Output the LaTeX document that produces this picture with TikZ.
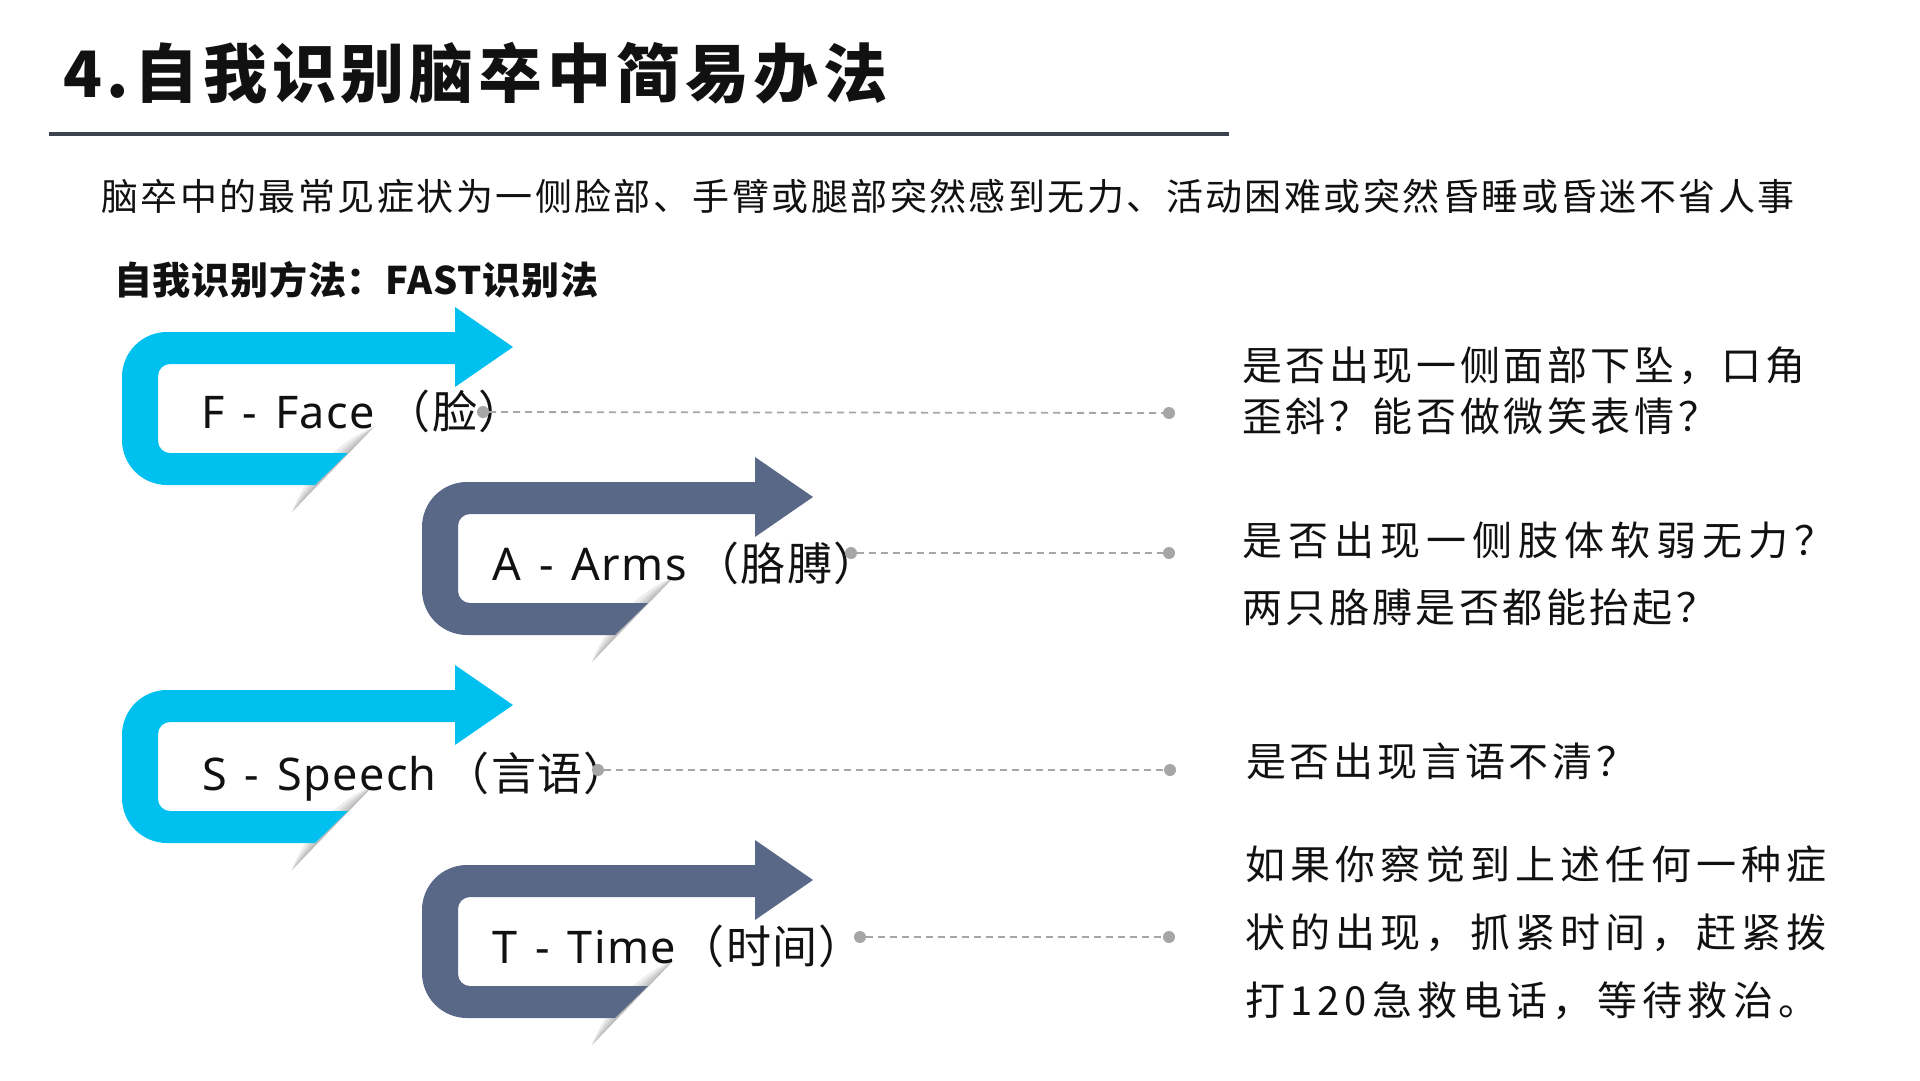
\documentclass[tikz,border=0pt]{standalone}
\usepackage{fontspec}
\setmainfont{Noto Sans CJK SC}
\newfontfamily\titlef{Noto Sans CJK SC}[LetterSpace=7.6]
\newfontfamily\subf{Noto Sans CJK SC}[LetterSpace=6.6]
\newfontfamily\headf{Noto Sans CJK SC}[LetterSpace=2.1]
\newfontfamily\lablat{Noto Sans}[LetterSpace=3]
\newfontfamily\labcjk{Noto Sans CJK SC}[LetterSpace=3]
\newfontfamily\descf{Noto Sans CJK SC}
\definecolor{ribcyan}{HTML}{00C0F0}
\definecolor{ribslate}{HTML}{5A6888}
\definecolor{rulecol}{HTML}{3B4350}
\definecolor{dotgray}{HTML}{A6A6A6}
\definecolor{inkcol}{HTML}{111111}
\newcommand\ribbonarrow[3]{%
\begin{scope}[shift={(#1,#2)}]
  \foreach \w in {16,11,7,3}{%
    \fill[black,opacity=0.07] (252,95) .. controls ({227.4-0.707*\w},{120.5-0.707*\w}) and ({194.6-0.707*\w},{154.5-0.707*\w}) .. (170,180) -- cycle;
  }
  \fill[#3] (391,15) -- (333,55) -- (333,32) -- (48,32)
    arc[start angle=270,end angle=180,radius=12] -- (36,109)
    arc[start angle=180,end angle=90,radius=12] -- (226,121) -- (193,153) -- (45,153)
    arc[start angle=90,end angle=180,radius=45] -- (0,45)
    arc[start angle=180,end angle=270,radius=45] -- (333,0) -- (333,-25) -- cycle;
\end{scope}}
\tikzset{
  lettertext/.style={anchor=base west, inner sep=0pt, text=inkcol, font=\fontsize{45}{54}\selectfont},
  desctext/.style={anchor=base west, inner sep=0pt, text=inkcol},
  dotnode/.style={circle, fill=dotgray, draw=none, minimum size=12pt, inner sep=0pt},
  dashline/.style={draw=dotgray, line width=1.8pt, dash pattern=on 7pt off 5pt},
}
\begin{document}
\begin{tikzpicture}[x=1pt,y=-1pt]
\fill[white] (0,0) rectangle (1920,1080);
\useasboundingbox (0,0) rectangle (1920,1080);

% title
\node[anchor=base west, inner sep=0pt, text=inkcol] (title) at (63,97)
  {\titlef\bfseries\fontsize{64}{70}\selectfont 4.自我识别脑卒中简易办法};
\coordinate (ruleL) at (49,134);
\coordinate (ruleR) at (1229,134);
\draw[rulecol, line width=4pt] (ruleL) -- (ruleR);

\node[anchor=base west, inner sep=0pt, text=inkcol] (sub) at (101,210)
  {\subf\fontsize{37}{44}\selectfont 脑卒中的最常见症状为一侧脸部、手臂或腿部突然感到无力、活动困难或突然昏睡或昏迷不省人事};
\node[anchor=base west, inner sep=0pt, text=inkcol] (head) at (114,294)
  {\headf\bfseries\fontsize{38}{44}\selectfont 自我识别方法：FAST识别法};

% ribbons
\ribbonarrow{122}{332}{ribcyan}
\ribbonarrow{422}{482}{ribslate}
\ribbonarrow{122}{690}{ribcyan}
\ribbonarrow{422}{865}{ribslate}

% letters
\node[lettertext] (lf) at (201,428) {\lablat F \hspace{5pt}- \hspace{5pt}Face\hspace{11pt}\labcjk（脸）};
\node[lettertext] (la) at (492,580) {\lablat A \hspace{5pt}- \hspace{5pt}Arms\hspace{8pt}\labcjk（胳膊）};
\node[lettertext] (ls) at (202,790) {\lablat S \hspace{5pt}- \hspace{5pt}Speech\hspace{8pt}\labcjk（言语）};
\node[lettertext] (lt) at (492,963) {\lablat T \hspace{5pt}- \hspace{5pt}Time\hspace{4pt}\labcjk（时间）};

% descriptions
\node[desctext] (df) at (1242,380) {\descf\fontsize{40}{51}\selectfont\vtop{%
  \hbox{\addfontfeature{LetterSpace=9}是否出现一侧面部下坠，口角}%
  \hbox{\addfontfeature{LetterSpace=9}歪斜？能否做微笑表情？}}};
\node[desctext] (da) at (1242,555) {\descf\fontsize{40}{67}\selectfont\vtop{%
  \hbox{\addfontfeature{LetterSpace=15}是否出现一侧肢体软弱无力？}%
  \hbox{\addfontfeature{LetterSpace=8.5}两只胳膊是否都能抬起？}}};
\node[desctext] (ds) at (1246,776) {\descf\fontsize{40}{67}\selectfont
  \addfontfeature{LetterSpace=9.5}是否出现言语不清？};
\node[desctext] (dt) at (1245,879) {\descf\fontsize{40}{68}\selectfont\vtop{%
  \hbox{\addfontfeature{LetterSpace=12.75}如果你察觉到上述任何一种症}%
  \hbox{\addfontfeature{LetterSpace=12.75}状的出现，抓紧时间，赶紧拨}%
  \hbox{\addfontfeature{LetterSpace=12.75}打120急救电话，等待救治。}}};

% dots and connectors
\node[dotnode] (fa) at (483,412) {};
\node[dotnode] (fb) at (1169,413) {};
\node[dotnode] (aa) at (851,553) {};
\node[dotnode] (ab) at (1169,553) {};
\node[dotnode] (sa) at (598,770) {};
\node[dotnode] (sb) at (1170,770) {};
\node[dotnode] (ta) at (860,937) {};
\node[dotnode] (tb) at (1169,937) {};
\draw[dashline] (fa) -- (fb);
\draw[dashline] (aa) -- (ab);
\draw[dashline] (sa) -- (sb);
\draw[dashline] (ta) -- (tb);
\end{tikzpicture}
\end{document}
